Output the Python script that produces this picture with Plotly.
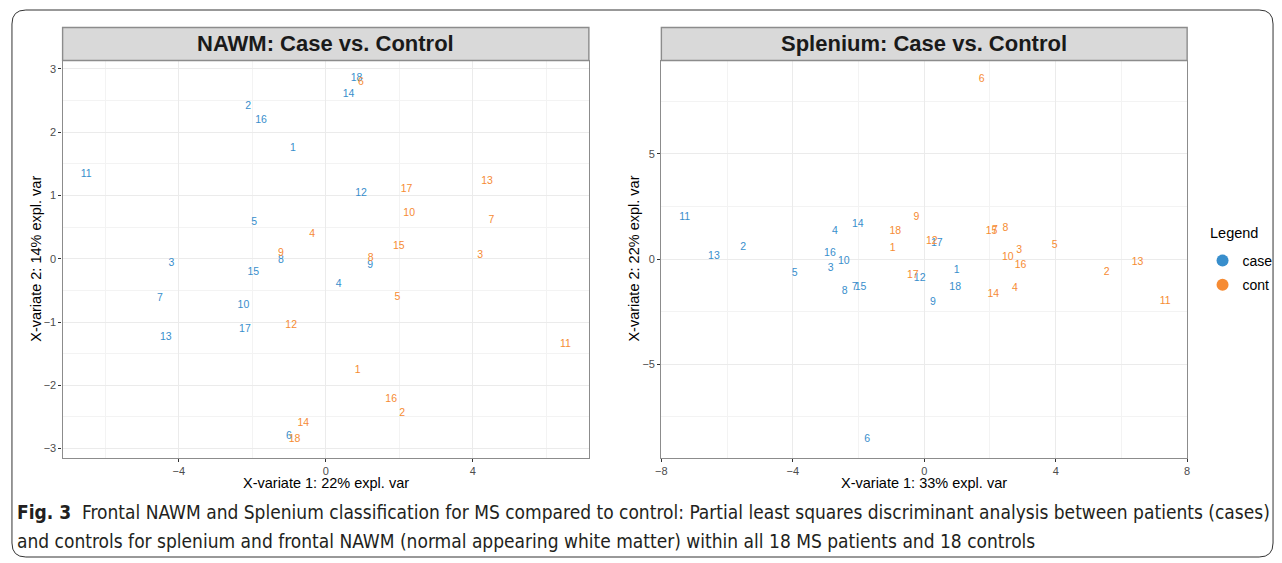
import plotly.graph_objects as go

W, H = 1282, 563

ids = [str(i) for i in range(1, 19)]

# NAWM panel (X-variate 1 / X-variate 2)
nawm_case_x = [-0.89, -2.11, -4.20, 0.35, -1.95, -1.00, -4.51, -1.22, 1.21, -2.24, -6.52, 0.96, -4.35, 0.62, -1.97, -1.76, -2.20, 0.84]
nawm_case_y = [1.74, 2.41, -0.08, -0.40, 0.57, -2.81, -0.62, -0.02, -0.11, -0.73, 1.33, 1.03, -1.25, 2.59, -0.21, 2.19, -1.12, 2.84]
nawm_cont_x = [0.87, 2.08, 4.20, -0.37, 1.95, 0.96, 4.51, 1.22, -1.22, 2.27, 6.52, -0.94, 4.39, -0.61, 1.99, 1.78, 2.20, -0.85]
nawm_cont_y = [-1.76, -2.44, 0.06, 0.38, -0.61, 2.79, 0.60, 0.01, 0.08, 0.71, -1.36, -1.06, 1.22, -2.60, 0.19, -2.22, 1.10, -2.86]

# Splenium panel
splen_case_x = [0.99, -5.51, -2.85, -2.72, -3.94, -1.74, -2.12, -2.42, 0.26, -2.45, -7.29, -0.14, -6.40, -2.02, -1.94, -2.87, 0.38, 0.94]
splen_case_y = [-0.54, 0.57, -0.46, 1.31, -0.70, -8.58, -1.33, -1.54, -2.04, -0.11, 1.99, -0.93, 0.12, 1.63, -1.33, 0.28, 0.73, -1.33]
splen_cont_x = [-0.96, 5.55, 2.89, 2.76, 3.97, 1.75, 2.15, 2.47, -0.24, 2.54, 7.33, 0.23, 6.49, 2.10, 2.05, 2.93, -0.35, -0.88]
splen_cont_y = [0.52, -0.62, 0.41, -1.38, 0.65, 8.54, 1.35, 1.47, 1.99, 0.09, -2.01, 0.84, -0.14, -1.66, 1.31, -0.32, -0.79, 1.31]

groups = ["case", "cont"]
colors = {"case": "#388ECC", "cont": "#F68B33"}

panel_titles = ["NAWM: Case vs. Control", "Splenium: Case vs. Control"]
x_titles = ["X-variate 1: 22% expl. var", "X-variate 1: 33% expl. var"]
y_titles = ["X-variate 2: 14% expl. var", "X-variate 2: 22% expl. var"]
legend_title = "Legend"

caption_1 = "<b>Fig. 3</b>  Frontal NAWM and Splenium classification for MS compared to control: Partial least squares discriminant analysis between patients (cases)"
caption_2 = "and controls for splenium and frontal NAWM (normal appearing white matter) within all 18 MS patients and 18 controls"


def px(x):
    return x / W


def py(y):
    return 1 - y / H


FONT = "Liberation Sans, Arial, Helvetica, sans-serif"

fig = go.Figure()

panels = [
    (nawm_case_x, nawm_case_y, nawm_cont_x, nawm_cont_y, "x", "y"),
    (splen_case_x, splen_case_y, splen_cont_x, splen_cont_y, "x2", "y2"),
]
for cx, cy, ox, oy, xa, ya in panels:
    for g, gx, gy in (("case", cx, cy), ("cont", ox, oy)):
        fig.add_trace(go.Scatter(
            x=gx, y=gy, text=ids, mode="text", xaxis=xa, yaxis=ya,
            textposition="middle center",
            textfont=dict(color=colors[g], size=10.5, family=FONT),
            showlegend=False, hoverinfo="x+y+text", name=g))

# legend entries (circles)
for g in groups:
    fig.add_trace(go.Scatter(
        x=[None], y=[None], mode="markers", name=g, legendgroup=g,
        marker=dict(color=colors[g], size=13), xaxis="x2", yaxis="y2"))

# panel geometry in pixels
L = dict(x0=57, x1=587, top=60.5, bot=457.5)
R = dict(x0=660, x1=1189.5, top=60.5, bot=457.5)
strip_top = 27.5

axis_common = dict(
    showgrid=True, gridcolor="#EBEBEB", gridwidth=1.2, zeroline=False,
    showline=True, mirror=True, linecolor="#8C8C8C", linewidth=1.4,
    ticks="outside", ticklen=3, tickcolor="#333333", tickwidth=1,
    tickfont=dict(size=11, color="#4D4D4D", family=FONT),
)

fig.update_layout(
    width=W, height=H,
    margin=dict(l=0, r=0, t=0, b=0),
    paper_bgcolor="white", plot_bgcolor="white",
    font=dict(family=FONT, color="#000000"),
    xaxis=dict(domain=[px(L["x0"]), px(L["x1"])], range=[-7.16, 7.16], dtick=4, tick0=0,
               minor=dict(dtick=2, showgrid=True, gridcolor="#F3F3F3", gridwidth=0.8, ticks=""),
               anchor="y", **axis_common),
    yaxis=dict(domain=[py(L["bot"]), py(L["top"])], range=[-3.14, 3.13], dtick=1, tick0=0,
               minor=dict(dtick=0.5, showgrid=True, gridcolor="#F3F3F3", gridwidth=0.8, ticks=""),
               anchor="x", **axis_common),
    xaxis2=dict(domain=[px(R["x0"]), px(R["x1"])], range=[-8.0, 8.0], dtick=4, tick0=0,
                minor=dict(dtick=2, showgrid=True, gridcolor="#F3F3F3", gridwidth=0.8, ticks=""),
                anchor="y2", **axis_common),
    yaxis2=dict(domain=[py(R["bot"]), py(R["top"])], range=[-9.43, 9.43], dtick=5, tick0=0,
                minor=dict(dtick=2.5, showgrid=True, gridcolor="#F3F3F3", gridwidth=0.8, ticks=""),
                anchor="x2", **axis_common),
    legend=dict(
        x=px(1205), y=py(245), xanchor="left", yanchor="top",
        font=dict(size=14, color="#000000", family=FONT),
        bgcolor="rgba(0,0,0,0)", itemsizing="constant", tracegroupgap=3,
    ),
)

shapes = []
annotations = []
for P, title, xt, yt, ylab_x in ((L, panel_titles[0], x_titles[0], y_titles[0], 30),
                                 (R, panel_titles[1], x_titles[1], y_titles[1], 632)):
    shapes.append(dict(type="rect", xref="paper", yref="paper",
                       x0=px(P["x0"]), x1=px(P["x1"]), y0=py(P["top"]), y1=py(strip_top),
                       fillcolor="#D9D9D9", line=dict(color="#8C8C8C", width=1.4), layer="above"))
    cx = (P["x0"] + P["x1"]) / 2
    annotations.append(dict(text="<b>%s</b>" % title, xref="paper", yref="paper",
                            x=px(cx), y=py((strip_top + P["top"]) / 2), showarrow=False,
                            xanchor="center", yanchor="middle",
                            font=dict(size=22, color="#1A1A1A", family=FONT)))
    annotations.append(dict(text=xt, xref="paper", yref="paper",
                            x=px(cx), y=py(483), showarrow=False,
                            xanchor="center", yanchor="middle",
                            font=dict(size=14.5, color="#000000", family=FONT)))
    annotations.append(dict(text=yt, xref="paper", yref="paper",
                            x=px(ylab_x), y=py((P["top"] + P["bot"]) / 2), showarrow=False,
                            textangle=-90, xanchor="center", yanchor="middle",
                            font=dict(size=14.5, color="#000000", family=FONT)))

annotations.append(dict(text=legend_title, xref="paper", yref="paper", x=px(1211), y=py(233),
                        xanchor="left", yanchor="middle", showarrow=False,
                        font=dict(size=14.5, color="#000000", family=FONT)))

CAP_FONT = "Liberation Sans Narrow, DejaVu Sans Condensed, Arial Narrow, sans-serif"
annotations.append(dict(text=caption_1, xref="paper", yref="paper", x=px(9), y=py(512),
                        xanchor="left", yanchor="middle", showarrow=False, align="left",
                        font=dict(size=19, color="#231F20", family=CAP_FONT)))
annotations.append(dict(text=caption_2, xref="paper", yref="paper", x=px(9), y=py(541),
                        xanchor="left", yanchor="middle", showarrow=False, align="left",
                        font=dict(size=19, color="#231F20", family=CAP_FONT)))

# outer rounded frame
fx0, fy0, fx1, fy1, r = 6, 10, 1276, 557, 14
rx, ry = r / W, r / H
X0, X1, Y0, Y1 = px(fx0), px(fx1), py(fy1), py(fy0)
path = (f"M {X0+rx} {Y1} L {X1-rx} {Y1} Q {X1} {Y1} {X1} {Y1-ry} "
        f"L {X1} {Y0+ry} Q {X1} {Y0} {X1-rx} {Y0} L {X0+rx} {Y0} "
        f"Q {X0} {Y0} {X0} {Y0+ry} L {X0} {Y1-ry} Q {X0} {Y1} {X0+rx} {Y1} Z")
shapes.append(dict(type="path", xref="paper", yref="paper", path=path,
                   line=dict(color="#333333", width=1), fillcolor="rgba(0,0,0,0)"))

fig.update_layout(shapes=shapes, annotations=annotations)

fig.write_html("out.html")
